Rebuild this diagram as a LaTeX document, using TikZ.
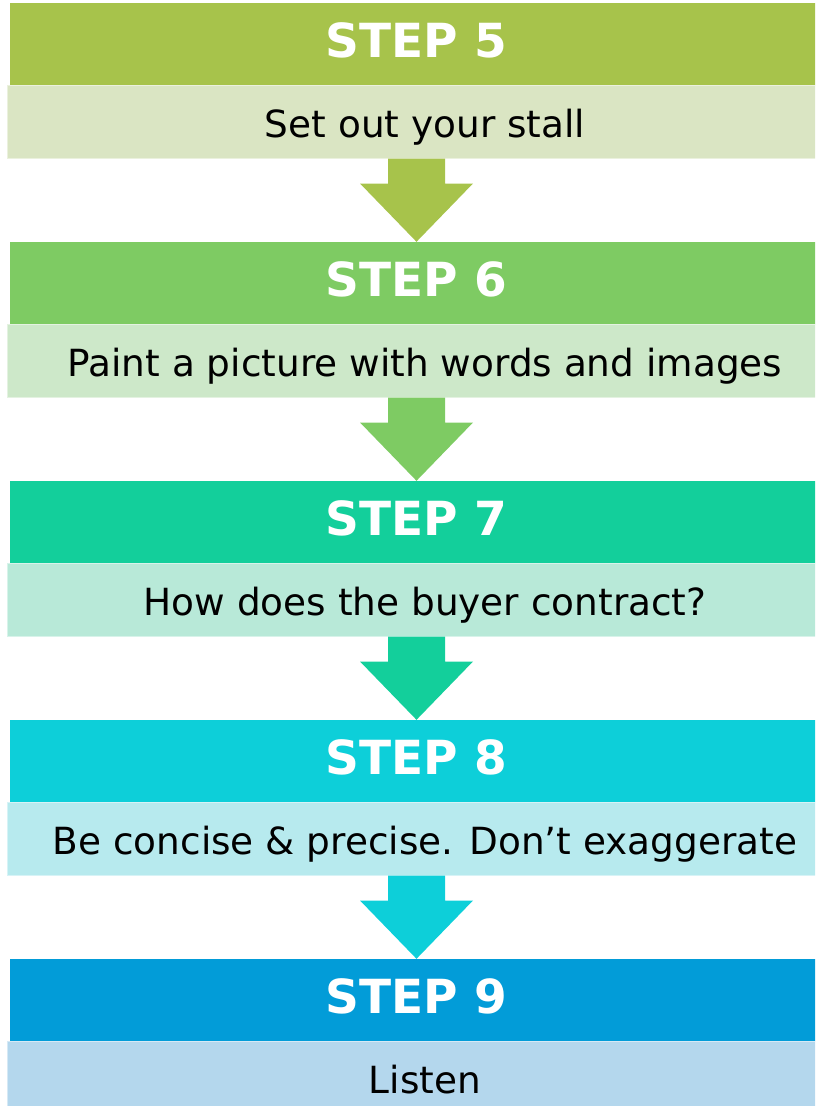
\documentclass[tikz,border=0pt]{standalone}
\usepackage{fontspec}
\setmainfont{DejaVu Sans}
\usetikzlibrary{calc}

\definecolor{headA}{HTML}{A7C34B}\definecolor{bodyA}{HTML}{DAE5C3}
\definecolor{headB}{HTML}{7ECB63}\definecolor{bodyB}{HTML}{CDE8C9}
\definecolor{headC}{HTML}{13CF9B}\definecolor{bodyC}{HTML}{B8E9D8}
\definecolor{headD}{HTML}{0DCFD9}\definecolor{bodyD}{HTML}{B7EAEE}
\definecolor{headE}{HTML}{029CD8}\definecolor{bodyE}{HTML}{B4D7ED}

\tikzset{
  headbox/.style={minimum width=812pt, minimum height=82pt, inner sep=0pt, fill=#1},
  bodybox/.style={minimum width=836pt, minimum height=73pt, inner sep=0pt, fill=#1,
                  draw=#1!55!white, line width=1pt},
  headtext/.style={anchor=base, inner sep=0pt, text=white,
                   font=\bfseries\fontsize{47}{51}\selectfont},
  bodytext/.style={anchor=base, inner sep=0pt, text=black,
                   font=\fontsize{37.4}{41}\selectfont},
}

% down arrow from the bottom of one step's body box to the top of the next header
\newcommand\steparrow[3]{%
  \fill[#3] let \p1=(#1.south), \p2=(#2.north) in
    (388pt,\y1) -- (445pt,\y1) -- (445pt,\y1-25pt) -- (473pt,\y1-25pt)
    -- (416.5pt,\y2) -- (360pt,\y1-25pt) -- (388pt,\y1-25pt) -- cycle;}

\begin{document}
\begin{tikzpicture}[x=1pt,y=-1pt]
\useasboundingbox (0,0) rectangle (815,1106);
\clip (0,0) rectangle (815,1106);

\foreach \n/\k/\hc/\bc/\txt in {
   5/0/headA/bodyA/{Set out your stall},
   6/1/headB/bodyB/{Paint a picture with words and images},
   7/2/headC/bodyC/{How does the buyer contract?},
   8/3/headD/bodyD/{Be concise \& precise. Don’t exaggerate},
   9/4/headE/bodyE/{Listen}}{
  \pgfmathsetmacro\top{3+239*\k}
  \node[headbox=\hc] (h\n) at (416,\top+41) {};
  \node[bodybox=\bc] (b\n) at (425,\top+118.5) {};
  \node[headtext] (ht\n) at (416,\top+54.5) {STEP \n};
  \node[bodytext] (bt\n) at (425,\top+134) {\txt};
}

\steparrow{b5}{h6}{headA}
\steparrow{b6}{h7}{headB}
\steparrow{b7}{h8}{headC}
\steparrow{b8}{h9}{headD}
\end{tikzpicture}
\end{document}
